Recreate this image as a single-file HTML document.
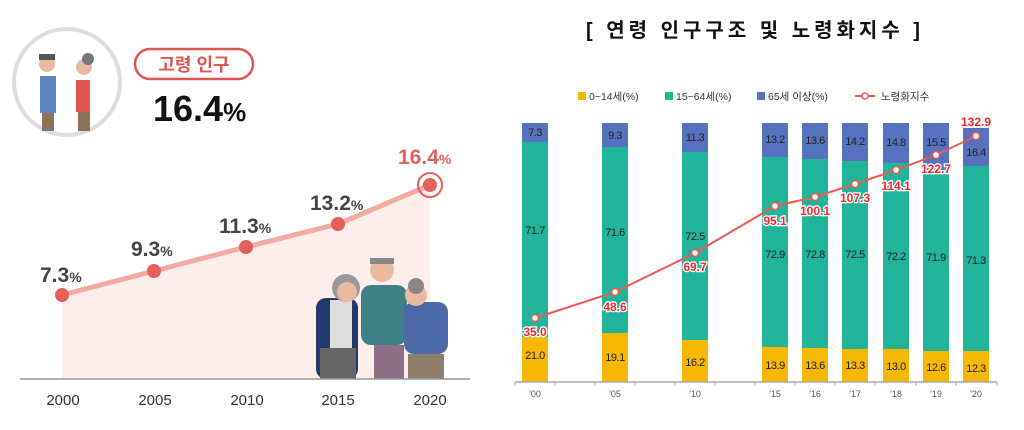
<!DOCTYPE html>
<html><head><meta charset="utf-8"><style>
body{margin:0;width:1024px;height:425px;background:#fff;overflow:hidden;font-family:"Liberation Sans","Noto Sans CJK KR",sans-serif}
</style></head><body>
<svg width="1024" height="425" viewBox="0 0 1024 425" xmlns="http://www.w3.org/2000/svg" font-family="Liberation Sans, Noto Sans CJK KR, sans-serif">
<circle cx="67" cy="82" r="53" fill="#fff" stroke="#ddd" stroke-width="4"/>
<rect x="40" y="76" width="16" height="37" fill="#5b86c6"/><rect x="42" y="113" width="12" height="18" fill="#8a7358"/>
<circle cx="47" cy="64" r="8" fill="#e9b9a0"/><rect x="39" y="54" width="16" height="6" fill="#555"/>
<rect x="76" y="80" width="14" height="32" fill="#e0554f"/><rect x="78" y="112" width="12" height="19" fill="#8a7358"/>
<circle cx="84" cy="67" r="8" fill="#e9b9a0"/><circle cx="88" cy="59" r="6" fill="#777"/>
<rect x="135" y="49" width="118" height="30" rx="15" fill="#fff" stroke="#e0554f" stroke-width="2.5"/>
<text x="194" y="71" font-size="18" font-weight="bold" fill="#e0554f" text-anchor="middle">고령 인구</text>
<text x="153" y="121" font-size="36" font-weight="bold" fill="#111">16.4<tspan font-size="26">%</tspan></text>
<polygon points="62,295 154,271 246,247 338,224 430,185 430,379 62,379" fill="#fdeeec"/>
<polyline points="62,295 154,271 246,247 338,224 430,185" fill="none" stroke="#f3aaa2" stroke-width="5"/>
<g fill="#e5605a"><circle cx="62" cy="295" r="7"/><circle cx="154" cy="271" r="7"/><circle cx="246" cy="247" r="7"/><circle cx="338" cy="224" r="7"/><circle cx="430" cy="185" r="7"/></g>
<circle cx="430" cy="185" r="12" fill="none" stroke="#e5605a" stroke-width="2"/>
<g font-size="21" font-weight="bold" fill="#444">
<text x="40" y="282">7.3<tspan font-size="14">%</tspan></text>
<text x="131" y="256">9.3<tspan font-size="14">%</tspan></text>
<text x="219" y="233">11.3<tspan font-size="14">%</tspan></text>
<text x="310" y="210">13.2<tspan font-size="14">%</tspan></text>
<text x="398" y="164" fill="#e5605a">16.4<tspan font-size="14">%</tspan></text>
</g>
<rect x="316" y="298" width="42" height="81" rx="10" fill="#22396a"/><rect x="330" y="300" width="22" height="50" fill="#ddd"/>
<rect x="320" y="348" width="36" height="31" fill="#666"/><circle cx="346" cy="288" r="14" fill="#999"/><circle cx="347" cy="292" r="10" fill="#e9b9a0"/>
<rect x="361" y="285" width="46" height="60" rx="10" fill="#3f7f86"/><rect x="374" y="345" width="30" height="34" fill="#8e6f86"/>
<circle cx="382" cy="270" r="12" fill="#e9b9a0"/><rect x="370" y="258" width="24" height="6" fill="#888"/>
<rect x="404" y="302" width="44" height="52" rx="10" fill="#4d69a8"/><rect x="408" y="354" width="36" height="25" fill="#8e7d6c"/>
<circle cx="416" cy="295" r="11" fill="#e9b9a0"/><circle cx="416" cy="286" r="8" fill="#888"/>
<line x1="20" y1="379" x2="470" y2="379" stroke="#999" stroke-width="1.5"/>
<g font-size="15" fill="#333" text-anchor="middle"><text x="63" y="405">2000</text><text x="155" y="405">2005</text><text x="247" y="405">2010</text><text x="338" y="405">2015</text><text x="430" y="405">2020</text></g>
<text x="755" y="37" font-size="20" font-weight="bold" fill="#111" text-anchor="middle" letter-spacing="4">[ 연령 인구구조 및 노령화지수 ]</text>
<g font-size="10.5" fill="#333">
<rect x="578" y="92" width="8" height="8" fill="#f6b800"/><text x="589" y="100">0~14세(%)</text>
<rect x="665" y="92" width="8" height="8" fill="#22b49a"/><text x="676" y="100">15~64세(%)</text>
<rect x="757" y="92" width="8" height="8" fill="#5672be"/><text x="768" y="100">65세 이상(%)</text>
<line x1="855" y1="96" x2="875" y2="96" stroke="#ee5a52" stroke-width="2"/><circle cx="865" cy="96" r="3" fill="#fff" stroke="#ee5a52" stroke-width="1.5"/><text x="881" y="100">노령화지수</text>
</g>
<g>
<rect x="522" y="123" width="26" height="19" fill="#5672be"/><rect x="522" y="142" width="26" height="195" fill="#22b49a"/><rect x="522" y="337" width="26" height="45" fill="#f6b800"/>
<rect x="602" y="123" width="26" height="24" fill="#5672be"/><rect x="602" y="147" width="26" height="186" fill="#22b49a"/><rect x="602" y="333" width="26" height="49" fill="#f6b800"/>
<rect x="682" y="123" width="26" height="29" fill="#5672be"/><rect x="682" y="152" width="26" height="188" fill="#22b49a"/><rect x="682" y="340" width="26" height="42" fill="#f6b800"/>
<rect x="762" y="123" width="26" height="34" fill="#5672be"/><rect x="762" y="157" width="26" height="190" fill="#22b49a"/><rect x="762" y="347" width="26" height="35" fill="#f6b800"/>
<rect x="802" y="123" width="26" height="36" fill="#5672be"/><rect x="802" y="159" width="26" height="189" fill="#22b49a"/><rect x="802" y="348" width="26" height="34" fill="#f6b800"/>
<rect x="842" y="123" width="26" height="38" fill="#5672be"/><rect x="842" y="161" width="26" height="188" fill="#22b49a"/><rect x="842" y="349" width="26" height="33" fill="#f6b800"/>
<rect x="883" y="123" width="26" height="40" fill="#5672be"/><rect x="883" y="163" width="26" height="186" fill="#22b49a"/><rect x="883" y="349" width="26" height="33" fill="#f6b800"/>
<rect x="923" y="123" width="26" height="51" fill="#5672be"/><rect x="923" y="174" width="26" height="177" fill="#22b49a"/><rect x="923" y="351" width="26" height="31" fill="#f6b800"/>
<rect x="963" y="128" width="26" height="38" fill="#5672be"/><rect x="963" y="166" width="26" height="185" fill="#22b49a"/><rect x="963" y="351" width="26" height="31" fill="#f6b800"/>
</g>
<g font-size="11" fill="#222" text-anchor="middle" letter-spacing="-0.5">
<text x="535" y="136">7.3</text><text x="535" y="234">71.7</text><text x="535" y="359">21.0</text>
<text x="615" y="139">9.3</text><text x="615" y="236">71.6</text><text x="615" y="361">19.1</text>
<text x="695" y="141">11.3</text><text x="695" y="240">72.5</text><text x="695" y="366">16.2</text>
<text x="775" y="143">13.2</text><text x="775" y="258">72.9</text><text x="775" y="369">13.9</text>
<text x="815" y="144">13.6</text><text x="815" y="258">72.8</text><text x="815" y="369">13.6</text>
<text x="855" y="145">14.2</text><text x="855" y="258">72.5</text><text x="855" y="369">13.3</text>
<text x="896" y="146">14.8</text><text x="896" y="260">72.2</text><text x="896" y="370">13.0</text>
<text x="936" y="146">15.5</text><text x="936" y="261">71.9</text><text x="936" y="371">12.6</text>
<text x="976" y="156">16.4</text><text x="976" y="264">71.3</text><text x="976" y="372">12.3</text>
</g>
<polyline points="535,318 615,292 695,253 775,206 815,197 855,184 896,170 936,155 976,136" fill="none" stroke="#ee5a52" stroke-width="2"/>
<g fill="#fff" stroke="#ee5a52" stroke-width="1.5">
<circle cx="535" cy="318" r="3.5"/><circle cx="615" cy="292" r="3.5"/><circle cx="695" cy="253" r="3.5"/><circle cx="775" cy="206" r="3.5"/><circle cx="815" cy="197" r="3.5"/><circle cx="855" cy="184" r="3.5"/><circle cx="896" cy="170" r="3.5"/><circle cx="936" cy="155" r="3.5"/><circle cx="976" cy="136" r="3.5"/>
</g>
<g font-size="12" font-weight="bold" fill="#ee2a2a" text-anchor="middle" stroke="#fff" stroke-width="2.5" paint-order="stroke">
<text x="535" y="336">35.0</text><text x="615" y="311">48.6</text><text x="695" y="271">69.7</text><text x="775" y="225">95.1</text><text x="815" y="215">100.1</text><text x="855" y="202">107.3</text><text x="896" y="190">114.1</text><text x="936" y="173">122.7</text><text x="976" y="126">132.9</text>
</g>
<line x1="515" y1="382" x2="997" y2="382" stroke="#aaa" stroke-width="1.5"/>
<g stroke="#aaa"><line x1="515" y1="382" x2="515" y2="386"/><line x1="555" y1="382" x2="555" y2="386"/><line x1="595" y1="382" x2="595" y2="386"/><line x1="635" y1="382" x2="635" y2="386"/><line x1="675" y1="382" x2="675" y2="386"/><line x1="715" y1="382" x2="715" y2="386"/><line x1="755" y1="382" x2="755" y2="386"/><line x1="795" y1="382" x2="795" y2="386"/><line x1="835" y1="382" x2="835" y2="386"/><line x1="875" y1="382" x2="875" y2="386"/><line x1="916" y1="382" x2="916" y2="386"/><line x1="956" y1="382" x2="956" y2="386"/><line x1="997" y1="382" x2="997" y2="386"/></g>
<g font-size="9" fill="#555" text-anchor="middle"><text x="535" y="397">'00</text><text x="615" y="397">'05</text><text x="695" y="397">'10</text><text x="775" y="397">'15</text><text x="815" y="397">'16</text><text x="855" y="397">'17</text><text x="896" y="397">'18</text><text x="936" y="397">'19</text><text x="976" y="397">'20</text></g>
</svg>
</body></html>
